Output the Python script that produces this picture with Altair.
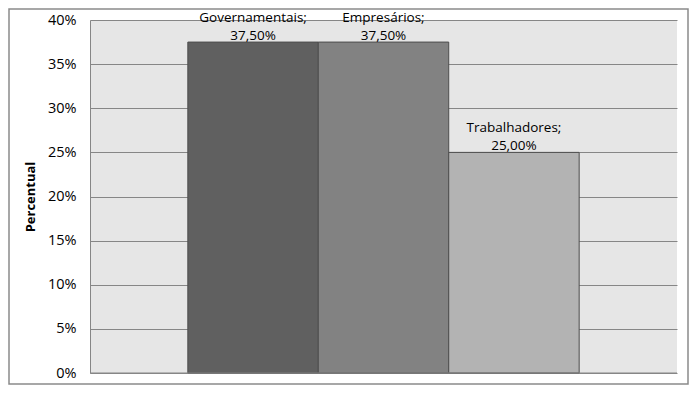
import altair as alt
import pandas as pd

categories = ["Governamentais", "Empresários", "Trabalhadores"]
values = [0.375, 0.375, 0.25]
value_labels = ["37,50%", "37,50%", "25,00%"]
colors = ["#606060", "#828282", "#b3b3b3"]

df = pd.DataFrame({
    "cat": categories,
    "val": values,
    "lab": [c + ";\n" + v for c, v in zip(categories, value_labels)],
})

W, H = 587, 353
FONT = "Open Sans"

x = alt.X("cat:N", sort=categories, axis=None,
          scale=alt.Scale(paddingInner=0, paddingOuter=0.75))
y = alt.Y("val:Q", scale=alt.Scale(domain=[0, 0.4]),
          axis=alt.Axis(values=[0, 0.05, 0.1, 0.15, 0.2, 0.25, 0.3, 0.35, 0.4],
                        format=".0%", title="Percentual", grid=True,
                        gridColor="#868686", gridWidth=1, domainColor="#868686",
                        ticks=False, labelPadding=14, labelFontSize=14.5,
                        labelFont=FONT, labelColor="#000000",
                        titleFont=FONT, titleFontSize=13, titleFontWeight="bold",
                        titleColor="#000000", titlePadding=10))

bars = alt.Chart(df).mark_bar(stroke="#4d4d4d", strokeWidth=1).encode(
    x=x, y=y,
    color=alt.Color("cat:N", sort=categories,
                    scale=alt.Scale(domain=categories, range=colors), legend=None),
)

txt = alt.Chart(df).mark_text(
    dy=-17, baseline="bottom", lineBreak="\n", lineHeight=18,
    font=FONT, fontSize=13.5, color="#000000").encode(
    x=x, y=alt.Y("val:Q"), text="lab:N")

xaxis_line = alt.Chart(pd.DataFrame({"a": [0]})).mark_rule(color="#868686").encode(
    x=alt.value(0), x2=alt.value(W), y=alt.value(H))

border = alt.Chart(pd.DataFrame({"a": [0]})).mark_rect(
    fill=None, stroke="#8a8a8a", strokeWidth=1.5, clip=False).encode(
    x=alt.value(-81), x2=alt.value(W + 11), y=alt.value(-11), y2=alt.value(H + 11))

chart = alt.layer(border, bars, xaxis_line, txt).properties(
    width=W, height=H, background="#ffffff",
    padding={"left": 82, "top": 12, "right": 12, "bottom": 12},
    autosize="none",
).configure_view(fill="#e6e6e6", stroke=None)

chart.save("out.html", embed_options={"renderer": "svg", "actions": False})
